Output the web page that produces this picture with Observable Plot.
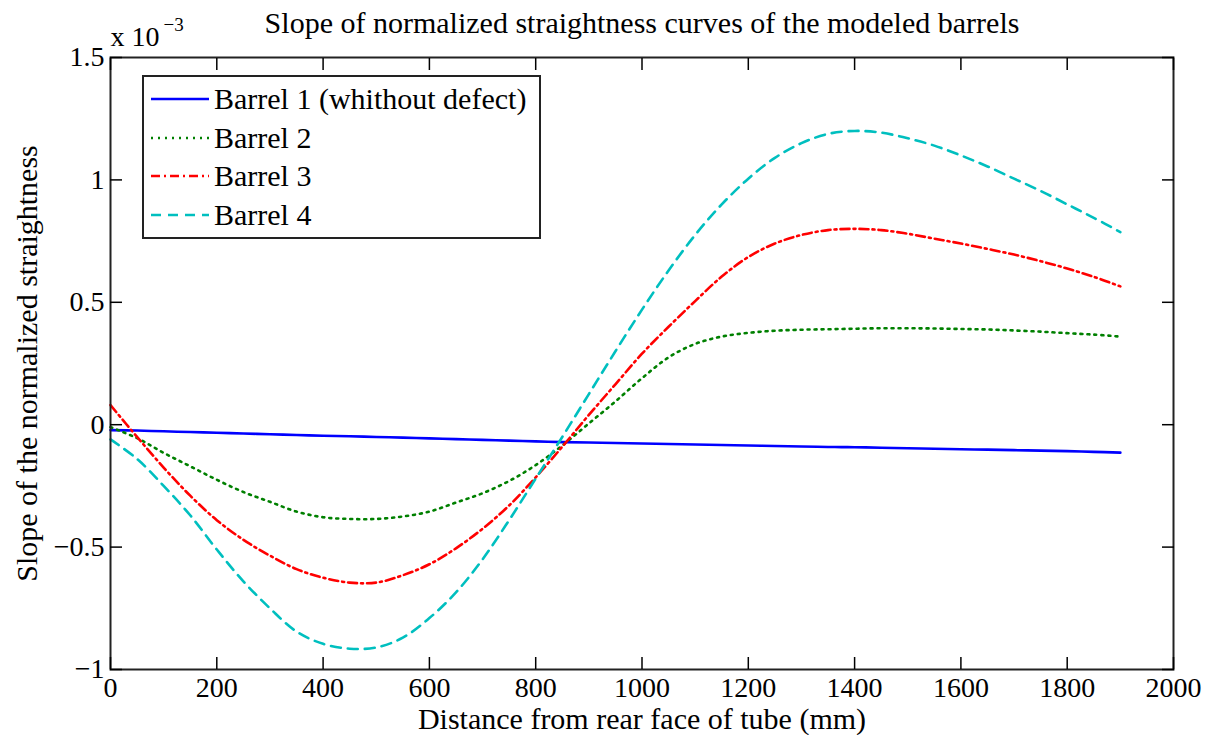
<!DOCTYPE html>
<html>
<head>
<meta charset="utf-8">
<script src="https://cdn.jsdelivr.net/npm/d3@7"></script>
<script src="https://cdn.jsdelivr.net/npm/@observablehq/plot@0.6"></script>
<style>
  body { margin: 0; background: #fff; }
  #wrap { position: relative; width: 1211px; height: 735px; font-family: "Liberation Serif", "Times New Roman", serif; }
  #legend { position: absolute; left: 142px; top: 75px; width: 399px; height: 164px; box-sizing: border-box;
            border: 2px solid #222; background: #fff; padding-top: 3px; }
  .row { height: 38.5px; display: flex; align-items: center; font-size: 30px; color: #000; white-space: nowrap; }
  .row svg { margin-left: 7px; margin-right: 5px; flex: none; }
</style>
</head>
<body>
<div id="wrap"></div>
<script>
// Distance from the rear face of the tube (mm)
const distance = [0, 50, 100, 150, 200, 250, 300, 350, 400, 450, 500, 550, 600, 650, 700, 750, 800, 850, 900, 950,
  1000, 1050, 1100, 1150, 1200, 1250, 1300, 1350, 1400, 1450, 1500, 1550, 1600, 1650, 1700, 1750, 1800, 1850, 1900];

// Slope of the normalized straightness, in units of 1e-3
const barrel1 = [-0.022, -0.024, -0.027, -0.030, -0.033, -0.036, -0.039, -0.042, -0.045, -0.047, -0.050, -0.053, -0.056,
  -0.059, -0.062, -0.065, -0.068, -0.071, -0.073, -0.075, -0.077, -0.079, -0.081, -0.083, -0.085, -0.087, -0.089,
  -0.091, -0.092, -0.094, -0.096, -0.098, -0.100, -0.102, -0.104, -0.106, -0.108, -0.111, -0.114];
const barrel2 = [-0.010, -0.055, -0.115, -0.170, -0.225, -0.275, -0.315, -0.355, -0.378, -0.385, -0.385, -0.375, -0.355,
  -0.318, -0.280, -0.230, -0.165, -0.085, 0.005, 0.095, 0.190, 0.275, 0.330, 0.360, 0.375, 0.384, 0.388, 0.390, 0.392,
  0.394, 0.394, 0.393, 0.391, 0.389, 0.385, 0.380, 0.374, 0.368, 0.360];
const barrel3 = [0.080, -0.050, -0.175, -0.290, -0.390, -0.470, -0.535, -0.590, -0.625, -0.645, -0.645, -0.615, -0.570,
  -0.505, -0.425, -0.330, -0.215, -0.090, 0.040, 0.165, 0.290, 0.400, 0.505, 0.605, 0.685, 0.740, 0.775, 0.795, 0.800,
  0.795, 0.780, 0.760, 0.740, 0.718, 0.695, 0.668, 0.638, 0.604, 0.565];
const barrel4 = [-0.060, -0.140, -0.250, -0.370, -0.510, -0.640, -0.750, -0.845, -0.895, -0.915, -0.910, -0.870, -0.790,
  -0.685, -0.550, -0.390, -0.220, -0.050, 0.125, 0.300, 0.470, 0.630, 0.775, 0.900, 1.005, 1.090, 1.150, 1.188, 1.200,
  1.193, 1.170, 1.140, 1.100, 1.055, 1.005, 0.955, 0.900, 0.845, 0.787];

const seriesNames = ["Barrel 1 (whithout defect)", "Barrel 2", "Barrel 3", "Barrel 4"];
const seriesColors = ["#0000ff", "#008000", "#ff0000", "#00bfbf"];
const seriesDashes = [null, "2,5", "9,4,2,4", "10,7"];

const xTicks = [0, 200, 400, 600, 800, 1000, 1200, 1400, 1600, 1800, 2000];
const yTicks = [-1, -0.5, 0, 0.5, 1, 1.5];
const yTickLabels = ["\u22121", "\u22120.5", "0", "0.5", "1", "1.5"];

const series = [barrel1, barrel2, barrel3, barrel4];
const tables = series.map(vals => distance.map((d, i) => ({x: d, y: vals[i]})));

const font = "Liberation Serif, Times New Roman, serif";

const chart = Plot.plot({
  width: 1211,
  height: 735,
  marginLeft: 110,
  marginRight: 38,
  marginTop: 57,
  marginBottom: 66,
  x: {domain: [0, 2000]},
  y: {domain: [-1, 1.5]},
  style: {fontFamily: font, fontSize: "28px", color: "#000", background: "#fff", overflow: "visible"},
  marks: [
    ...tables.map((t, k) => Plot.line(t, {
      x: "x", y: "y", stroke: seriesColors[k], strokeWidth: 2.6,
      strokeDasharray: seriesDashes[k], curve: "catmull-rom"
    })),
    Plot.frame({stroke: "#222", strokeWidth: 2}),
    Plot.axisX({ticks: xTicks, tickSize: -12, tickPadding: 20, tickFormat: d => String(d), fontSize: 28, label: null, stroke: "#000", strokeWidth: 1.5}),
    Plot.axisX({anchor: "top", ticks: xTicks, tickSize: -12, tickFormat: () => "", label: null, stroke: "#000", strokeWidth: 1.5}),
    Plot.axisY({ticks: yTicks, tickSize: -12, tickPadding: 18, tickFormat: (d, i) => yTickLabels[i], fontSize: 28, label: null, stroke: "#000", strokeWidth: 1.5}),
    Plot.axisY({anchor: "right", ticks: yTicks, tickSize: -12, tickFormat: () => "", label: null, stroke: "#000", strokeWidth: 1.5}),
    Plot.text(["Slope of normalized straightness curves of the modeled barrels"], {frameAnchor: "top", lineAnchor: "middle", dy: -34, fontSize: 30, text: d => d}),
    Plot.text(["Distance from rear face of tube (mm)"], {frameAnchor: "bottom", lineAnchor: "middle", dy: 50, fontSize: 30, text: d => d}),
    Plot.text(["Slope of the normalized straightness"], {frameAnchor: "left", textAnchor: "middle", lineAnchor: "middle", dx: -83, rotate: -90, fontSize: 30, text: d => d}),
    Plot.text(["x 10"], {frameAnchor: "top-left", textAnchor: "start", lineAnchor: "middle", dx: 0, dy: -20, fontSize: 28, text: d => d}),
    Plot.text(["\u22123"], {frameAnchor: "top-left", textAnchor: "start", lineAnchor: "middle", dx: 53, dy: -33, fontSize: 19, text: d => d})
  ]
});

const wrap = document.getElementById("wrap");
wrap.appendChild(chart);

// Legend box with line-style swatches
const legend = document.createElement("div");
legend.id = "legend";
seriesNames.forEach((name, k) => {
  const row = document.createElement("div");
  row.className = "row";
  const dash = seriesDashes[k] ? `stroke-dasharray="${seriesDashes[k]}"` : "";
  row.innerHTML = `<svg width="58" height="10"><line x1="0" y1="5" x2="58" y2="5" stroke="${seriesColors[k]}" stroke-width="2.6" ${dash}/></svg><span>${name}</span>`;
  legend.appendChild(row);
});
wrap.appendChild(legend);
</script>
</body>
</html>
